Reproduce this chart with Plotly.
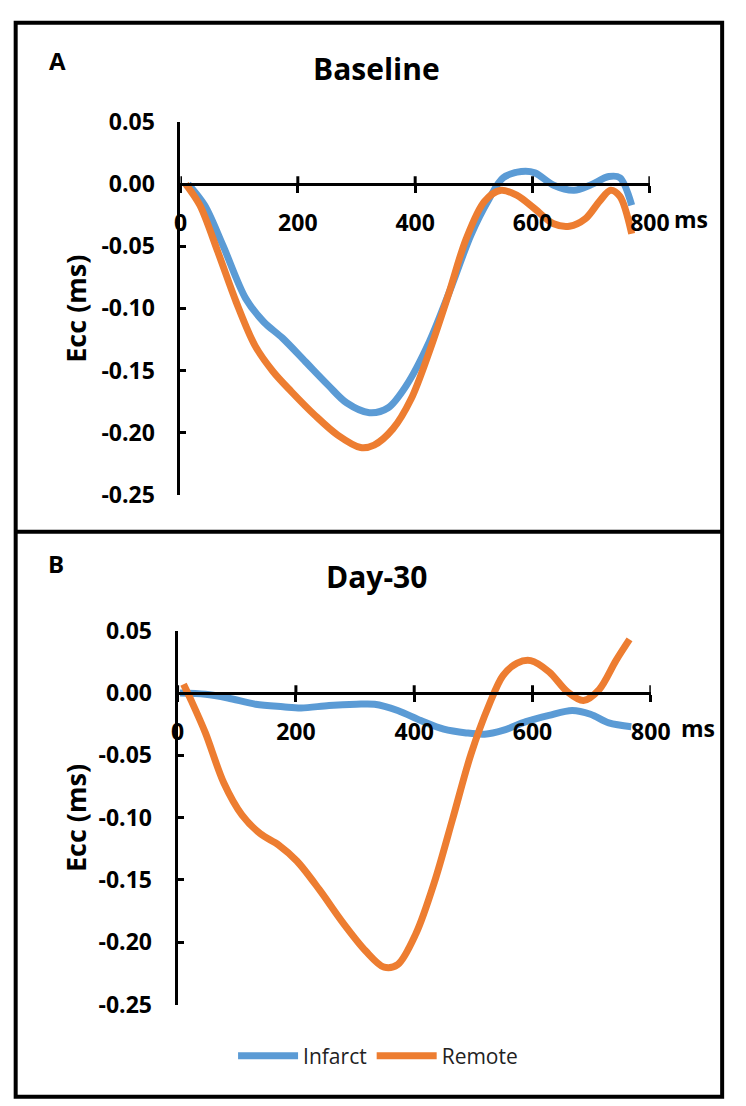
import plotly.graph_objects as go

# ---------------- data ----------------
x_ticks = [0, 200, 400, 600, 800]
x_tick_labels = ["0", "200", "400", "600", "800"]
y_ticks = [0.05, 0.0, -0.05, -0.10, -0.15, -0.20, -0.25]
y_tick_labels = ["0.05", "0.00", "-0.05", "-0.10", "-0.15", "-0.20", "-0.25"]

series_names = ["Infarct", "Remote"]

# Panel A - Baseline
base_infarct_t = [13, 41, 72, 111, 142, 174, 213, 252, 283, 322, 354, 385, 424, 463,
                  495, 526, 550, 581, 604, 636, 671, 698, 730, 749, 769]
base_infarct_v = [0.000, -0.017, -0.049, -0.092, -0.111, -0.124, -0.143, -0.162, -0.176,
                  -0.184, -0.180, -0.162, -0.127, -0.081, -0.041, -0.012, 0.005, 0.010,
                  0.009, -0.001, -0.005, -0.001, 0.006, 0.005, -0.017]
base_remote_t = [9, 33, 64, 95, 127, 158, 189, 229, 268, 307, 330, 362, 393, 424, 456,
                 487, 518, 546, 573, 604, 636, 663, 690, 714, 733, 749, 769]
base_remote_v = [0.000, -0.017, -0.055, -0.095, -0.130, -0.151, -0.167, -0.186, -0.202,
                 -0.212, -0.210, -0.197, -0.173, -0.135, -0.090, -0.044, -0.014, -0.005,
                 -0.009, -0.020, -0.032, -0.034, -0.028, -0.014, -0.005, -0.010, -0.040]

# Panel B - Day-30
d30_infarct_t = [4, 47, 85, 132, 178, 209, 256, 302, 333, 372, 411, 450, 488, 519, 550,
                 589, 628, 667, 698, 729, 767]
d30_infarct_v = [0.000, -0.001, -0.004, -0.009, -0.011, -0.012, -0.010, -0.009, -0.009,
                 -0.014, -0.022, -0.029, -0.032, -0.033, -0.030, -0.023, -0.018, -0.014,
                 -0.017, -0.024, -0.027]
d30_remote_t = [10, 23, 47, 78, 109, 140, 171, 202, 240, 279, 318, 349, 372, 403, 434,
                465, 496, 527, 550, 574, 597, 628, 659, 686, 713, 741, 764]
d30_remote_v = [0.007, -0.006, -0.032, -0.072, -0.098, -0.113, -0.122, -0.135, -0.158,
                -0.184, -0.207, -0.220, -0.218, -0.193, -0.152, -0.101, -0.049, -0.009,
                0.014, 0.024, 0.026, 0.017, 0.001, -0.006, 0.003, 0.026, 0.043]

# ---------------- layout helpers ----------------
W, H = 746, 1106
def px(x):
    return x / W
def py(y):
    return 1 - y / H

BLUE = "#5B9BD5"
ORANGE = "#ED7D31"
FONT = "Open Sans"
Y_MIN, Y_MAX = -0.25, 0.05

panels = [
    dict(xa="xaxis", ya="yaxis", xr="x", yr="y", xl=180, xrpx=667, yt=108, yb=492,
         title="Baseline", title_y=53, letter="A", letter_xy=(52, 45), ms_gap=4),
    dict(xa="xaxis2", ya="yaxis2", xr="x2", yr="y2", xl=177, xrpx=668, yt=632, yb=1017,
         title="Day-30", title_y=576, letter="B", letter_xy=(51, 563), ms_gap=10),
]

fig = go.Figure()

data_sets = [
    [(base_infarct_t, base_infarct_v), (base_remote_t, base_remote_v)],
    [(d30_infarct_t, d30_infarct_v), (d30_remote_t, d30_remote_v)],
]
colors = [BLUE, ORANGE]

for pi, (p, ds) in enumerate(zip(panels, data_sets)):
    for si, (t, v) in enumerate(ds):
        fig.add_trace(go.Scatter(
            x=t, y=v, mode="lines", name=series_names[si],
            line=dict(color=colors[si], width=7, shape="spline", smoothing=0.9),
            xaxis=p["xr"], yaxis=p["yr"], showlegend=(pi == 1),
        ))

annotations = []
shapes = []
layout_axes = {}
for p in panels:
    d0, d1 = py(p["yb"]), py(p["yt"])
    zero_pos = d0 + (0 - Y_MIN) / (Y_MAX - Y_MIN) * (d1 - d0)
    layout_axes[p["xa"]] = dict(
        domain=[px(p["xl"]), px(p["xrpx"])], range=[0, 800],
        anchor="free", position=zero_pos,
        showline=True, linecolor="black", linewidth=3,
        ticks="outside", ticklen=7, tickwidth=3, tickcolor="black",
        tickvals=x_ticks, ticktext=x_tick_labels,
        tickfont=dict(family=FONT, size=23, color="black", weight="bold"),
        ticklabelstandoff=10,
        showgrid=False, zeroline=False, fixedrange=True,
    )
    layout_axes[p["ya"]] = dict(
        domain=[d0, d1], range=[Y_MIN, Y_MAX], anchor=p["xr"],
        showline=True, linecolor="black", linewidth=3,
        ticks="inside", ticklen=6, tickwidth=3, tickcolor="black",
        tickvals=y_ticks, ticktext=y_tick_labels,
        tickfont=dict(family=FONT, size=23, color="black", weight="bold"),
        ticklabelstandoff=18,
        showgrid=False, zeroline=False, fixedrange=True,
    )
    for tv in x_ticks:
        shapes.append(dict(type="line", xref=p["xr"], yref="paper",
                           x0=tv, x1=tv, y0=zero_pos, y1=zero_pos + 8 / H,
                           line=dict(color="black", width=3)))
    annotations.append(dict(text="<b>ms</b>", xref=p["xr"], yref="paper", x=800,
                            y=zero_pos - 36 / H, xanchor="left", yanchor="middle",
                            xshift=18 + p["ms_gap"], showarrow=False,
                            font=dict(family=FONT, size=23, color="black")))
    annotations.append(dict(text="<b>" + p["title"] + "</b>", xref="paper", yref="paper",
                            x=px(383), y=py(p["title_y"]), xanchor="center",
                            yanchor="middle", showarrow=False,
                            font=dict(family=FONT, size=30, color="black")))
    annotations.append(dict(text="<b>" + p["letter"] + "</b>", xref="paper", yref="paper",
                            x=px(p["letter_xy"][0]), y=py(p["letter_xy"][1]),
                            xanchor="center", yanchor="middle", showarrow=False,
                            font=dict(family=FONT, size=24, color="black")))
    annotations.append(dict(text="<b>Ecc (ms)</b>", xref="paper", yref="paper",
                            x=px(71), y=(d0 + d1) / 2, textangle=-90,
                            xanchor="center", yanchor="middle", showarrow=False,
                            font=dict(family=FONT, size=27, color="black")))

# outer frame (bottom edge falls outside the picture, as in the reference) and divider
shapes.append(dict(type="rect", xref="paper", yref="paper",
                   x0=px(9), x1=px(742), y0=py(1112), y1=py(6),
                   line=dict(color="black", width=4)))
shapes.append(dict(type="line", xref="paper", yref="paper",
                   x0=px(9), x1=px(742), y0=py(530), y1=py(530),
                   line=dict(color="black", width=4)))

fig.update_layout(
    width=W, height=H,
    margin=dict(l=0, r=0, t=0, b=0),
    paper_bgcolor="white", plot_bgcolor="rgba(0,0,0,0)",
    showlegend=True,
    legend=dict(orientation="h", x=px(385), y=py(1070), xanchor="center",
                yanchor="middle", font=dict(family=FONT, size=21, color="#222"),
                itemwidth=60, bgcolor="rgba(0,0,0,0)"),
    annotations=annotations, shapes=shapes,
    **layout_axes,
)

fig.write_html("out.html",
               config={"displayModeBar": False},
               post_script="document.body.style.margin='0';document.body.style.padding='0';")
